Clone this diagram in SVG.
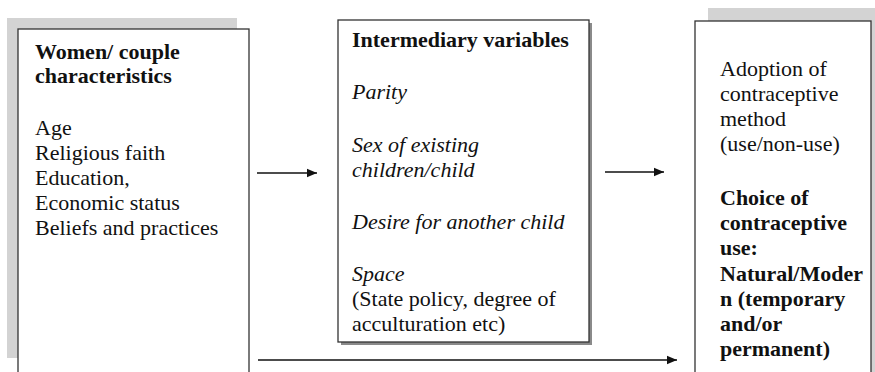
<svg xmlns="http://www.w3.org/2000/svg" width="875" height="372" viewBox="0 0 875 372">
<style>
text{font-family:"Liberation Serif","Times New Roman",serif;font-size:22px;fill:#111}
.b{font-weight:bold}
.i{font-style:italic}
.box{fill:#fff;stroke:#333;stroke-width:1.3}
.sh{fill:#d3d3d3}
.sh2{fill:#8a8a8a}
.conn{stroke:#111;stroke-width:1.6;fill:none}
</style>
<defs>
<marker id="ah" viewBox="0 0 10 10" refX="10" refY="5" markerWidth="10" markerHeight="10" markerUnits="userSpaceOnUse" orient="auto">
<path d="M0,0.8 L10,5 L0,9.2 Z" fill="#111"/>
</marker>
</defs>
<g id="node-characteristics">
<rect class="sh" x="7" y="18" width="230" height="340"/>
<rect class="box" x="18" y="29" width="231" height="360"/>
<text class="b" x="35" y="59">Women/ couple</text>
<text class="b" x="35" y="83">characteristics</text>
<text x="35" y="135">Age</text>
<text x="35" y="160">Religious faith</text>
<text x="35" y="185">Education,</text>
<text x="35" y="210">Economic status</text>
<text x="35" y="235">Beliefs and practices</text>
</g>
<g id="node-intermediary">
<rect class="sh2" x="341" y="23" width="251" height="322"/>
<rect class="box" x="338" y="20" width="251" height="322"/>
<text class="b" x="352" y="47">Intermediary variables</text>
<text class="i" x="352" y="99">Parity</text>
<text class="i" x="352" y="152">Sex of existing</text>
<text class="i" x="352" y="177">children/child</text>
<text class="i" x="352" y="229">Desire for another child</text>
<text class="i" x="352" y="281">Space</text>
<text x="352" y="306">(State policy, degree of</text>
<text x="352" y="331">acculturation etc)</text>
</g>
<g id="node-adoption">
<rect class="sh" x="708" y="8" width="180" height="380"/>
<rect class="box" x="695" y="21" width="176" height="370"/>
<text x="720" y="76">Adoption of</text>
<text x="720" y="101">contraceptive</text>
<text x="720" y="126">method</text>
<text x="720" y="151">(use/non-use)</text>
<text class="b" x="720" y="205">Choice of</text>
<text class="b" x="720" y="230">contraceptive</text>
<text class="b" x="720" y="255">use:</text>
<text class="b" x="720" y="281">Natural/Moder</text>
<text class="b" x="720" y="306">n (temporary</text>
<text class="b" x="720" y="331">and/or</text>
<text class="b" x="720" y="356">permanent)</text>
</g>
<g id="connectors">
<line class="conn" x1="257" y1="173" x2="317" y2="173" marker-end="url(#ah)"/>
<line class="conn" x1="605" y1="172" x2="664" y2="172" marker-end="url(#ah)"/>
<line class="conn" x1="258" y1="360" x2="677" y2="360" marker-end="url(#ah)"/>
</g>
</svg>
